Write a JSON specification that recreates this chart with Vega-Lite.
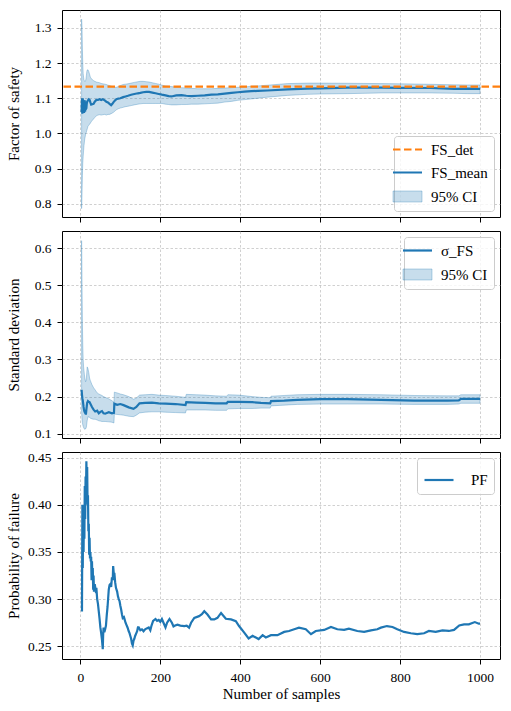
{
  "$schema": "https://vega.github.io/schema/vega-lite/v6.json",
  "padding": {"left": 6, "top": 9, "right": 5, "bottom": 5},
  "bounds": "flush",
  "spacing": 14,
  "resolve": {"scale": {"color": "independent"}, "legend": {"color": "independent"}},
  "config": {
    "font": "Liberation Serif",
    "view": {"stroke": "black", "strokeWidth": 1},
    "axis": {"labelFont": "Liberation Serif", "titleFont": "Liberation Serif", "labelFontSize": 13.5, "titleFontSize": 15, "titleFontWeight": "normal", "labelColor": "black", "titleColor": "black", "tickColor": "black", "tickSize": 5, "tickWidth": 1, "domain": false, "gridColor": "#b0b0b0", "gridDash": [2.5, 2], "gridWidth": 0.6, "labelPadding": 6},
    "legend": {"labelFont": "Liberation Serif", "labelFontSize": 15, "labelColor": "black", "strokeColor": "#cccccc", "fillColor": "rgba(255,255,255,0.8)", "cornerRadius": 3, "padding": 6, "symbolSize": 841, "rowPadding": 7, "labelOffset": 16, "offset": 6}
  },
  "datasets": {
    "fs": [
      {"n":3,"m":1.06,"lo":0.786,"hi":1.325},{"n":4,"m":1.10,"lo":0.83,"hi":1.30},{"n":5,"m":1.056,"lo":0.88,"hi":1.24},{"n":6,"m":1.10,"lo":0.915,"hi":1.20},{"n":7,"m":1.06,"lo":0.935,"hi":1.17},{"n":8,"m":1.095,"lo":0.95,"hi":1.16},{"n":9,"m":1.058,"lo":0.965,"hi":1.152},{"n":10,"m":1.09,"lo":0.975,"hi":1.15},{"n":11,"m":1.094,"lo":0.985,"hi":1.148},{"n":12,"m":1.062,"lo":0.99,"hi":1.148},{"n":13,"m":1.085,"lo":0.997,"hi":1.15},{"n":14,"m":1.07,"lo":1.0,"hi":1.155},{"n":15,"m":1.072,"lo":1.004,"hi":1.165},{"n":16,"m":1.085,"lo":1.008,"hi":1.175},{"n":17,"m":1.09,"lo":1.012,"hi":1.18},{"n":19,"m":1.094,"lo":1.02,"hi":1.181},{"n":21,"m":1.097,"lo":1.023,"hi":1.176},{"n":23,"m":1.095,"lo":1.026,"hi":1.168},{"n":25,"m":1.088,"lo":1.029,"hi":1.16},{"n":27,"m":1.082,"lo":1.033,"hi":1.156},{"n":30,"m":1.083,"lo":1.037,"hi":1.153},{"n":33,"m":1.084,"lo":1.041,"hi":1.15},{"n":36,"m":1.09,"lo":1.045,"hi":1.148},{"n":40,"m":1.095,"lo":1.05,"hi":1.146},{"n":44,"m":1.095,"lo":1.052,"hi":1.145},{"n":48,"m":1.097,"lo":1.053,"hi":1.144},{"n":52,"m":1.095,"lo":1.052,"hi":1.142},{"n":56,"m":1.097,"lo":1.053,"hi":1.141},{"n":61,"m":1.094,"lo":1.054,"hi":1.14},{"n":65,"m":1.09,"lo":1.052,"hi":1.139},{"n":69,"m":1.088,"lo":1.054,"hi":1.137},{"n":73,"m":1.084,"lo":1.054,"hi":1.136},{"n":77,"m":1.08,"lo":1.056,"hi":1.134},{"n":80,"m":1.084,"lo":1.058,"hi":1.133},{"n":83,"m":1.089,"lo":1.06,"hi":1.133},{"n":87,"m":1.094,"lo":1.064,"hi":1.131},{"n":90,"m":1.097,"lo":1.067,"hi":1.131},{"n":95,"m":1.099,"lo":1.07,"hi":1.133},{"n":100,"m":1.1,"lo":1.072,"hi":1.136},{"n":107,"m":1.103,"lo":1.074,"hi":1.139},{"n":113,"m":1.105,"lo":1.076,"hi":1.14},{"n":119,"m":1.107,"lo":1.077,"hi":1.141},{"n":127,"m":1.11,"lo":1.079,"hi":1.143},{"n":135,"m":1.112,"lo":1.081,"hi":1.145},{"n":144,"m":1.114,"lo":1.083,"hi":1.147},{"n":150,"m":1.115,"lo":1.084,"hi":1.148},{"n":157,"m":1.117,"lo":1.085,"hi":1.148},{"n":165,"m":1.118,"lo":1.085,"hi":1.147},{"n":172,"m":1.118,"lo":1.085,"hi":1.146},{"n":180,"m":1.116,"lo":1.085,"hi":1.144},{"n":188,"m":1.114,"lo":1.085,"hi":1.142},{"n":196,"m":1.112,"lo":1.085,"hi":1.14},{"n":204,"m":1.11,"lo":1.085,"hi":1.137},{"n":213,"m":1.108,"lo":1.083,"hi":1.135},{"n":221,"m":1.106,"lo":1.082,"hi":1.134},{"n":228,"m":1.105,"lo":1.081,"hi":1.133},{"n":240,"m":1.108,"lo":1.081,"hi":1.131},{"n":253,"m":1.109,"lo":1.082,"hi":1.13},{"n":265,"m":1.107,"lo":1.082,"hi":1.129},{"n":278,"m":1.106,"lo":1.083,"hi":1.128},{"n":294,"m":1.107,"lo":1.083,"hi":1.127},{"n":311,"m":1.108,"lo":1.084,"hi":1.127},{"n":328,"m":1.11,"lo":1.085,"hi":1.127},{"n":344,"m":1.111,"lo":1.086,"hi":1.128},{"n":361,"m":1.113,"lo":1.089,"hi":1.129},{"n":378,"m":1.115,"lo":1.091,"hi":1.13},{"n":394,"m":1.117,"lo":1.094,"hi":1.131},{"n":411,"m":1.119,"lo":1.096,"hi":1.132},{"n":428,"m":1.12,"lo":1.098,"hi":1.134},{"n":444,"m":1.121,"lo":1.1,"hi":1.135},{"n":468,"m":1.122,"lo":1.103,"hi":1.137},{"n":518,"m":1.125,"lo":1.108,"hi":1.1416},{"n":568,"m":1.127,"lo":1.111,"hi":1.143},{"n":600,"m":1.128,"lo":1.112,"hi":1.143},{"n":668,"m":1.13,"lo":1.113,"hi":1.1425},{"n":752,"m":1.13,"lo":1.115,"hi":1.1416},{"n":800,"m":1.1295,"lo":1.115,"hi":1.141},{"n":877,"m":1.129,"lo":1.115,"hi":1.1396},{"n":935,"m":1.1265,"lo":1.114,"hi":1.138},{"n":968,"m":1.127,"lo":1.113,"hi":1.1376},{"n":1000,"m":1.1265,"lo":1.113,"hi":1.1376}
    ],
    "det": [{"v": 1.133}],
    "sd": [
      {"n":3,"m":0.218,"lo":0.16,"hi":0.62},{"n":4,"m":0.205,"lo":0.14,"hi":0.5},{"n":5,"m":0.195,"lo":0.13,"hi":0.4},{"n":6,"m":0.19,"lo":0.124,"hi":0.34},{"n":7,"m":0.181,"lo":0.12,"hi":0.3},{"n":8,"m":0.172,"lo":0.117,"hi":0.28},{"n":9,"m":0.165,"lo":0.114,"hi":0.27},{"n":10,"m":0.16,"lo":0.113,"hi":0.26},{"n":11,"m":0.158,"lo":0.112,"hi":0.25},{"n":13,"m":0.154,"lo":0.113,"hi":0.24},{"n":14,"m":0.154,"lo":0.115,"hi":0.242},{"n":15,"m":0.165,"lo":0.118,"hi":0.25},{"n":17,"m":0.183,"lo":0.135,"hi":0.28},{"n":19,"m":0.188,"lo":0.146,"hi":0.275},{"n":21,"m":0.186,"lo":0.145,"hi":0.265},{"n":23,"m":0.185,"lo":0.144,"hi":0.25},{"n":25,"m":0.181,"lo":0.142,"hi":0.243},{"n":29,"m":0.172,"lo":0.14,"hi":0.232},{"n":33,"m":0.165,"lo":0.139,"hi":0.224},{"n":37,"m":0.16,"lo":0.139,"hi":0.218},{"n":42,"m":0.162,"lo":0.137,"hi":0.21},{"n":46,"m":0.155,"lo":0.135,"hi":0.207},{"n":50,"m":0.159,"lo":0.134,"hi":0.205},{"n":54,"m":0.161,"lo":0.133,"hi":0.203},{"n":58,"m":0.155,"lo":0.133,"hi":0.2},{"n":62,"m":0.154,"lo":0.133,"hi":0.198},{"n":71,"m":0.158,"lo":0.132,"hi":0.194},{"n":79,"m":0.155,"lo":0.131,"hi":0.189},{"n":84,"m":0.156,"lo":0.129,"hi":0.185},{"n":85,"m":0.181,"lo":0.153,"hi":0.212},{"n":92,"m":0.178,"lo":0.152,"hi":0.21},{"n":100,"m":0.18,"lo":0.151,"hi":0.207},{"n":108,"m":0.177,"lo":0.15,"hi":0.205},{"n":121,"m":0.171,"lo":0.147,"hi":0.2},{"n":133,"m":0.167,"lo":0.146,"hi":0.193},{"n":140,"m":0.172,"lo":0.15,"hi":0.196},{"n":148,"m":0.182,"lo":0.156,"hi":0.204},{"n":162,"m":0.183,"lo":0.158,"hi":0.205},{"n":179,"m":0.184,"lo":0.159,"hi":0.206},{"n":196,"m":0.182,"lo":0.159,"hi":0.204},{"n":213,"m":0.181,"lo":0.158,"hi":0.203},{"n":238,"m":0.18,"lo":0.157,"hi":0.201},{"n":263,"m":0.177,"lo":0.156,"hi":0.198},{"n":265,"m":0.185,"lo":0.164,"hi":0.206},{"n":290,"m":0.184,"lo":0.164,"hi":0.205},{"n":312,"m":0.183,"lo":0.164,"hi":0.204},{"n":338,"m":0.182,"lo":0.163,"hi":0.202},{"n":366,"m":0.182,"lo":0.163,"hi":0.201},{"n":369,"m":0.186,"lo":0.167,"hi":0.205},{"n":396,"m":0.186,"lo":0.168,"hi":0.204},{"n":430,"m":0.185,"lo":0.168,"hi":0.2},{"n":452,"m":0.183,"lo":0.169,"hi":0.198},{"n":475,"m":0.182,"lo":0.169,"hi":0.197},{"n":477,"m":0.188,"lo":0.175,"hi":0.201},{"n":510,"m":0.189,"lo":0.177,"hi":0.203},{"n":543,"m":0.191,"lo":0.179,"hi":0.205},{"n":600,"m":0.193,"lo":0.18,"hi":0.206},{"n":668,"m":0.193,"lo":0.18,"hi":0.206},{"n":752,"m":0.191,"lo":0.18,"hi":0.205},{"n":835,"m":0.189,"lo":0.179,"hi":0.203},{"n":918,"m":0.189,"lo":0.179,"hi":0.202},{"n":947,"m":0.19,"lo":0.18,"hi":0.202},{"n":952,"m":0.194,"lo":0.182,"hi":0.205},{"n":1000,"m":0.194,"lo":0.182,"hi":0.205}
    ],
    "pf": [
      {"n":4,"p":0.287},{"n":5,"p":0.4},{"n":6,"p":0.333},{"n":7,"p":0.4},{"n":8,"p":0.35},{"n":9,"p":0.4},{"n":10,"p":0.364},{"n":11,"p":0.42},{"n":12,"p":0.385},{"n":13,"p":0.43},{"n":14,"p":0.41},{"n":15,"p":0.446},{"n":16,"p":0.42},{"n":17,"p":0.44},{"n":18,"p":0.4},{"n":19,"p":0.41},{"n":20,"p":0.372},{"n":21,"p":0.38},{"n":22,"p":0.347},{"n":23,"p":0.365},{"n":24,"p":0.343},{"n":25,"p":0.35},{"n":26,"p":0.34},{"n":27,"p":0.345},{"n":28,"p":0.32},{"n":29,"p":0.34},{"n":30,"p":0.322},{"n":31,"p":0.333},{"n":32,"p":0.31},{"n":33,"p":0.325},{"n":34,"p":0.308},{"n":36,"p":0.316},{"n":38,"p":0.31},{"n":40,"p":0.312},{"n":42,"p":0.3},{"n":44,"p":0.295},{"n":46,"p":0.287},{"n":48,"p":0.279},{"n":50,"p":0.27},{"n":52,"p":0.264},{"n":54,"p":0.257},{"n":56,"p":0.247},{"n":57,"p":0.262},{"n":58,"p":0.27},{"n":60,"p":0.265},{"n":62,"p":0.268},{"n":64,"p":0.272},{"n":66,"p":0.283},{"n":68,"p":0.292},{"n":71,"p":0.31},{"n":73,"p":0.315},{"n":75,"p":0.316},{"n":77,"p":0.313},{"n":79,"p":0.323},{"n":81,"p":0.32},{"n":82,"p":0.335},{"n":84,"p":0.325},{"n":85,"p":0.328},{"n":87,"p":0.318},{"n":89,"p":0.312},{"n":92,"p":0.308},{"n":94,"p":0.303},{"n":96,"p":0.3},{"n":98,"p":0.298},{"n":100,"p":0.293},{"n":102,"p":0.289},{"n":104,"p":0.284},{"n":106,"p":0.28},{"n":109,"p":0.281},{"n":111,"p":0.278},{"n":113,"p":0.275},{"n":115,"p":0.273},{"n":118,"p":0.27},{"n":121,"p":0.266},{"n":123,"p":0.264},{"n":125,"p":0.261},{"n":127,"p":0.258},{"n":129,"p":0.253},{"n":131,"p":0.251},{"n":133,"p":0.256},{"n":135,"p":0.258},{"n":137,"p":0.261},{"n":140,"p":0.264},{"n":142,"p":0.266},{"n":144,"p":0.27},{"n":146,"p":0.27},{"n":150,"p":0.267},{"n":154,"p":0.268},{"n":158,"p":0.266},{"n":162,"p":0.268},{"n":166,"p":0.269},{"n":171,"p":0.27},{"n":175,"p":0.267},{"n":178,"p":0.272},{"n":182,"p":0.277},{"n":188,"p":0.279},{"n":192,"p":0.277},{"n":196,"p":0.278},{"n":200,"p":0.276},{"n":204,"p":0.279},{"n":208,"p":0.275},{"n":213,"p":0.27},{"n":217,"p":0.275},{"n":223,"p":0.279},{"n":229,"p":0.275},{"n":233,"p":0.271},{"n":237,"p":0.272},{"n":243,"p":0.273},{"n":250,"p":0.272},{"n":260,"p":0.2715},{"n":266,"p":0.272},{"n":272,"p":0.2698},{"n":277,"p":0.275},{"n":285,"p":0.2802},{"n":297,"p":0.282},{"n":304,"p":0.284},{"n":310,"p":0.2872},{"n":318,"p":0.2837},{"n":327,"p":0.2785},{"n":335,"p":0.2785},{"n":343,"p":0.2802},{"n":352,"p":0.2854},{"n":364,"p":0.2792},{"n":377,"p":0.2785},{"n":389,"p":0.2767},{"n":397,"p":0.2715},{"n":410,"p":0.2646},{"n":421,"p":0.2584},{"n":431,"p":0.2611},{"n":446,"p":0.2577},{"n":456,"p":0.2618},{"n":464,"p":0.2594},{"n":477,"p":0.2618},{"n":493,"p":0.2618},{"n":510,"p":0.2653},{"n":522,"p":0.2663},{"n":535,"p":0.2681},{"n":547,"p":0.2698},{"n":564,"p":0.2681},{"n":577,"p":0.2629},{"n":589,"p":0.2663},{"n":610,"p":0.2674},{"n":627,"p":0.2705},{"n":643,"p":0.2681},{"n":660,"p":0.2674},{"n":672,"p":0.2688},{"n":693,"p":0.2663},{"n":710,"p":0.2653},{"n":727,"p":0.267},{"n":743,"p":0.2681},{"n":752,"p":0.2698},{"n":767,"p":0.2715},{"n":781,"p":0.2705},{"n":793,"p":0.2681},{"n":810,"p":0.2653},{"n":827,"p":0.2639},{"n":843,"p":0.2629},{"n":860,"p":0.2639},{"n":872,"p":0.2663},{"n":889,"p":0.2653},{"n":906,"p":0.267},{"n":922,"p":0.2663},{"n":935,"p":0.2674},{"n":948,"p":0.2722},{"n":960,"p":0.2733},{"n":972,"p":0.2733},{"n":987,"p":0.2757},{"n":997,"p":0.274},{"n":1000,"p":0.274}
    ]
  },
  "vconcat": [
    {
      "width": 438, "height": 207,
      "data": {"name": "fs"},
      "layer": [
        {
          "mark": {"type": "area", "fillOpacity": 0.25, "stroke": "#1f77b4", "strokeOpacity": 0.3, "strokeWidth": 1},
          "encoding": {
            "x": {"field": "n", "type": "quantitative", "scale": {"domain": [-46, 1050], "nice": false, "zero": false}, "axis": {"values": [0, 200, 400, 600, 800, 1000], "labels": false, "title": null}},
            "y": {"field": "lo", "type": "quantitative", "scale": {"domain": [0.762, 1.351], "nice": false, "zero": false}, "axis": {"title": "Factor of safety", "values": [0.8, 0.9, 1.0, 1.1, 1.2, 1.3], "format": ".1f", "titleX": -43.5, "titleBaseline": "alphabetic"}},
            "y2": {"field": "hi"},
            "color": {"datum": "95% CI", "scale": {"domain": ["FS_det", "FS_mean", "95% CI"], "range": ["#ff7f0e", "#1f77b4", "#1f77b4"]},
              "legend": {"title": null, "orient": "bottom-right",
                "encode": {"symbols": {"update": {
                  "shape": {"signal": "datum.value === '95% CI' ? 'M-1,-0.38H1V0.38H-1Z' : 'M-1,0H1'"},
                  "size": {"value": 841},
                  "fill": {"signal": "datum.value === '95% CI' ? '#1f77b4' : 'transparent'"},
                  "fillOpacity": {"value": 0.25},
                  "stroke": {"signal": "datum.value === 'FS_det' ? '#ff7f0e' : '#1f77b4'"},
                  "strokeOpacity": {"signal": "datum.value === '95% CI' ? 0.3 : 1"},
                  "strokeDash": {"signal": "datum.value === 'FS_det' ? [7.5, 3.5] : [1, 0]"},
                  "strokeWidth": {"signal": "datum.value === '95% CI' ? 1 : 2.2"},
                  "opacity": {"value": 1}
                }}}}}
          }
        },
        {
          "mark": {"type": "line", "strokeWidth": 2.2},
          "encoding": {
            "x": {"field": "n", "type": "quantitative"},
            "y": {"field": "m", "type": "quantitative"},
            "color": {"datum": "FS_mean",
              "legend": {"title": null, "orient": "bottom-right",
                "encode": {"symbols": {"update": {
                  "shape": {"signal": "datum.value === '95% CI' ? 'M-1,-0.38H1V0.38H-1Z' : 'M-1,0H1'"},
                  "size": {"value": 841},
                  "fill": {"signal": "datum.value === '95% CI' ? '#1f77b4' : 'transparent'"},
                  "fillOpacity": {"value": 0.25},
                  "stroke": {"signal": "datum.value === 'FS_det' ? '#ff7f0e' : '#1f77b4'"},
                  "strokeOpacity": {"signal": "datum.value === '95% CI' ? 0.3 : 1"},
                  "strokeDash": {"signal": "datum.value === 'FS_det' ? [7.5, 3.5] : [1, 0]"},
                  "strokeWidth": {"signal": "datum.value === '95% CI' ? 1 : 2.2"},
                  "opacity": {"value": 1}
                }}}}}
          }
        },
        {
          "data": {"name": "det"},
          "mark": {"type": "rule", "strokeWidth": 2.2, "strokeDash": [7.5, 3.5]},
          "encoding": {
            "y": {"field": "v", "type": "quantitative"},
            "color": {"datum": "FS_det",
              "legend": {"title": null, "orient": "bottom-right",
                "encode": {"symbols": {"update": {
                  "shape": {"signal": "datum.value === '95% CI' ? 'M-1,-0.38H1V0.38H-1Z' : 'M-1,0H1'"},
                  "size": {"value": 841},
                  "fill": {"signal": "datum.value === '95% CI' ? '#1f77b4' : 'transparent'"},
                  "fillOpacity": {"value": 0.25},
                  "stroke": {"signal": "datum.value === 'FS_det' ? '#ff7f0e' : '#1f77b4'"},
                  "strokeOpacity": {"signal": "datum.value === '95% CI' ? 0.3 : 1"},
                  "strokeDash": {"signal": "datum.value === 'FS_det' ? [7.5, 3.5] : [1, 0]"},
                  "strokeWidth": {"signal": "datum.value === '95% CI' ? 1 : 2.2"},
                  "opacity": {"value": 1}
                }}}}}
          }
        }
      ]
    },
    {
      "width": 438, "height": 207,
      "data": {"name": "sd"},
      "layer": [
        {
          "mark": {"type": "area", "fillOpacity": 0.25, "stroke": "#1f77b4", "strokeOpacity": 0.3, "strokeWidth": 1},
          "encoding": {
            "x": {"field": "n", "type": "quantitative", "scale": {"domain": [-46, 1050], "nice": false, "zero": false}, "axis": {"values": [0, 200, 400, 600, 800, 1000], "labels": false, "title": null}},
            "y": {"field": "lo", "type": "quantitative", "scale": {"domain": [0.0885, 0.646], "nice": false, "zero": false}, "axis": {"title": "Standard deviation", "values": [0.1, 0.2, 0.3, 0.4, 0.5, 0.6], "format": ".1f", "titleX": -43.5, "titleBaseline": "alphabetic"}},
            "y2": {"field": "hi"},
            "color": {"datum": "95% CI", "scale": {"domain": ["σ_FS", "95% CI"], "range": ["#1f77b4", "#1f77b4"]},
              "legend": {"title": null, "orient": "top-right",
                "encode": {"symbols": {"update": {
                  "shape": {"signal": "datum.value === '95% CI' ? 'M-1,-0.38H1V0.38H-1Z' : 'M-1,0H1'"},
                  "size": {"value": 841},
                  "fill": {"signal": "datum.value === '95% CI' ? '#1f77b4' : 'transparent'"},
                  "fillOpacity": {"value": 0.25},
                  "stroke": {"value": "#1f77b4"},
                  "strokeOpacity": {"signal": "datum.value === '95% CI' ? 0.3 : 1"},
                  "strokeWidth": {"signal": "datum.value === '95% CI' ? 1 : 2.2"},
                  "opacity": {"value": 1}
                }}}}}
          }
        },
        {
          "mark": {"type": "line", "strokeWidth": 2.2},
          "encoding": {
            "x": {"field": "n", "type": "quantitative"},
            "y": {"field": "m", "type": "quantitative"},
            "color": {"datum": "σ_FS",
              "legend": {"title": null, "orient": "top-right",
                "encode": {"symbols": {"update": {
                  "shape": {"signal": "datum.value === '95% CI' ? 'M-1,-0.38H1V0.38H-1Z' : 'M-1,0H1'"},
                  "size": {"value": 841},
                  "fill": {"signal": "datum.value === '95% CI' ? '#1f77b4' : 'transparent'"},
                  "fillOpacity": {"value": 0.25},
                  "stroke": {"value": "#1f77b4"},
                  "strokeOpacity": {"signal": "datum.value === '95% CI' ? 0.3 : 1"},
                  "strokeWidth": {"signal": "datum.value === '95% CI' ? 1 : 2.2"},
                  "opacity": {"value": 1}
                }}}}}
          }
        }
      ]
    },
    {
      "width": 438, "height": 207,
      "data": {"name": "pf"},
      "mark": {"type": "line", "strokeWidth": 2.2},
      "encoding": {
        "x": {"field": "n", "type": "quantitative", "scale": {"domain": [-46, 1050], "nice": false, "zero": false}, "axis": {"values": [0, 200, 400, 600, 800, 1000], "title": "Number of samples", "format": "d", "titlePadding": 3}},
        "y": {"field": "p", "type": "quantitative", "scale": {"domain": [0.2366, 0.4559], "nice": false, "zero": false}, "axis": {"title": "Probability of failure", "values": [0.25, 0.3, 0.35, 0.4, 0.45], "format": ".2f", "titleX": -43.5, "titleBaseline": "alphabetic"}},
        "color": {"datum": "PF", "scale": {"domain": ["PF"], "range": ["#1f77b4"]},
          "legend": {"title": null, "orient": "top-right",
            "encode": {"symbols": {"update": {
              "shape": {"value": "M-1,0H1"},
              "size": {"value": 841},
              "fill": {"value": "transparent"},
              "stroke": {"value": "#1f77b4"},
              "strokeWidth": {"value": 2.2},
              "opacity": {"value": 1}
            }}}}}
      }
    }
  ]
}
